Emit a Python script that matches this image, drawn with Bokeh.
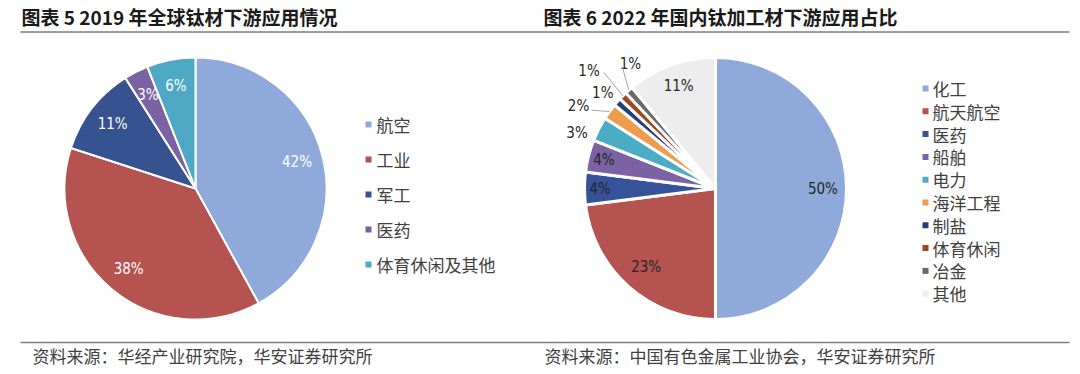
import math
from bokeh.plotting import figure
from bokeh.models import Range1d
from bokeh.core.properties import value
from bokeh.embed import file_html
from bokeh.resources import INLINE

# ---------------- data ----------------
left_title = "图表 5 2019 年全球钛材下游应用情况"
right_title = "图表 6 2022 年国内钛加工材下游应用占比"
left_source = "资料来源：华经产业研究院，华安证券研究所"
right_source = "资料来源：中国有色金属工业协会，华安证券研究所"

left_cats = ["航空", "工业", "军工", "医药", "体育休闲及其他"]
left_vals = [42, 38, 11, 3, 6]

right_cats = ["化工", "航天航空", "医药", "船舶", "电力", "海洋工程", "制盐", "体育休闲", "冶金", "其他"]
right_vals = [50, 23, 4, 4, 3, 2, 1, 1, 1, 11]

# ---------------- style ----------------
left_colors = ["#8FA9DA", "#B4534F", "#36528F", "#7A62A3", "#4FA9C4"]
right_colors = ["#8FA9DA", "#B4534F", "#36539A", "#7A62A3", "#4BACC6",
                "#EE9C50", "#223F78", "#9A4A1E", "#6A6A6A", "#EDEDED"]

CJK = value("Noto Sans CJK SC")
NUM = value("DejaVu Sans Condensed")
W, H = 1080, 374


def Y(sy):
    return 374 - sy


p = figure(width=W, height=H, output_backend="svg", toolbar_location=None,
           x_range=Range1d(0, W), y_range=Range1d(0, H),
           x_axis_location=None, y_axis_location=None, min_border=0)
p.grid.visible = False
p.outline_line_color = None
p.background_fill_color = "white"


def pie(cx, cy, R, vals, colors, lw):
    tot = float(sum(vals))
    starts, ends, mids = [], [], []
    cum = 0.0
    for v in vals:
        a0 = math.pi / 2 - (cum + v) / tot * 2 * math.pi
        a1 = math.pi / 2 - cum / tot * 2 * math.pi
        starts.append(a0)
        ends.append(a1)
        mids.append((a0 + a1) / 2)
        cum += v
    p.wedge(x=[cx] * len(vals), y=[Y(cy)] * len(vals), radius=R,
            start_angle=starts, end_angle=ends, fill_color=colors,
            line_color="white", line_width=lw)
    return mids


# ---------------- left pie ----------------
lcx, lcy, lR = 195, 188, 131
lmids = pie(lcx, lcy, lR, left_vals, left_colors, 2)
lx = [lcx + 0.8 * lR * math.cos(a) for a in lmids]
ly = [Y(lcy) + 0.8 * lR * math.sin(a) for a in lmids]
p.text(x=lx, y=ly, text=[f"{v}%" for v in left_vals], text_align="center",
       text_baseline="middle", text_font=NUM, text_font_size="15px",
       text_color="white")

# ---------------- right pie ----------------
rcx, rcy, rR = 715, 188, 131
rmids = pie(rcx, rcy, rR, right_vals, right_colors, 3)
rfac = [0.82, 0.8, 0.88, 0.88, 1.14, 1.22, 1.13, 1.32, 1.15, 0.83]
rtweak = [0, 0, 0, 0, 5, 5, 1, 2, -7, 0]
rx, ry = [], []
for a, f, t in zip(rmids, rfac, rtweak):
    ang = a + math.radians(t)
    rx.append(rcx + f * rR * math.cos(ang))
    ry.append(Y(rcy) + f * rR * math.sin(ang))
p.text(x=rx, y=ry, text=[f"{v}%" for v in right_vals], text_align="center",
       text_baseline="middle", text_font=NUM, text_font_size="15px",
       text_color="#262626")

# leader lines for small slices (index, start offset from label)
leaders = [(5, 13, -4), (7, 15, -2), (8, -8, -3)]
lxs, lys = [], []
for i, dx, dy in leaders:
    ex = rcx + rR * math.cos(rmids[i])
    ey = Y(rcy) + rR * math.sin(rmids[i])
    lxs.append([rx[i] + dx, ex])
    lys.append([ry[i] + dy, ey])
p.multi_line(xs=lxs, ys=lys, line_color="#A6A6A6", line_width=1)

# ---------------- legends ----------------
ly0 = [124 + 35 * i for i in range(len(left_cats))]
p.scatter(x=[368] * len(left_cats), y=[Y(v) for v in ly0], marker="square",
          size=6, fill_color=left_colors, line_color=None)
p.text(x=[376] * len(left_cats), y=[Y(v) for v in ly0], text=left_cats,
       text_baseline="middle", text_font=CJK, text_font_size="17px",
       text_color="#404040")

ry0 = [88 + 22.8 * i for i in range(len(right_cats))]
p.scatter(x=[925] * len(right_cats), y=[Y(v) for v in ry0], marker="square",
          size=6, fill_color=right_colors, line_color=None)
p.text(x=[932] * len(right_cats), y=[Y(v) for v in ry0], text=right_cats,
       text_baseline="middle", text_font=CJK, text_font_size="17px",
       text_color="#404040")

# ---------------- titles, rules, sources ----------------
p.text(x=[21, 543], y=[Y(16), Y(16)], text=[left_title, right_title],
       text_baseline="middle", text_font=CJK, text_font_size="19px",
       text_font_style="bold", text_color="#1a1a1a")
p.segment(x0=[20, 20], y0=[Y(31.5), Y(342)], x1=[1069, 1069],
          y1=[Y(31.5), Y(342)], line_color="#7F7F7F", line_width=1.5)
p.text(x=[32, 544], y=[Y(355), Y(355)], text=[left_source, right_source],
       text_baseline="middle", text_font=CJK, text_font_size="17px",
       text_color="#404040")

open("out.html", "w").write(file_html(p, INLINE))
